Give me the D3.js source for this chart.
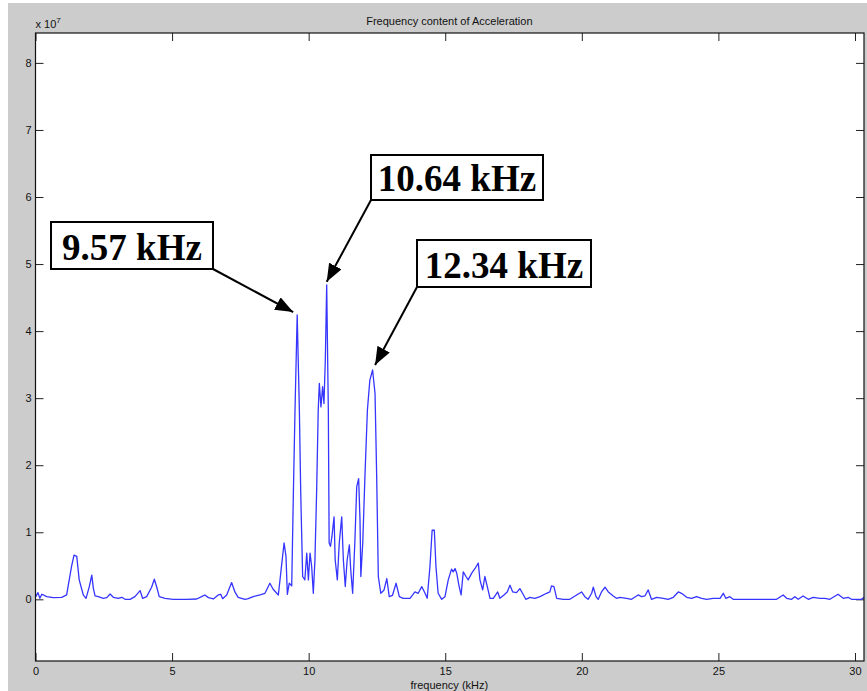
<!DOCTYPE html>
<html>
<head>
<meta charset="utf-8">
<script src="https://cdn.jsdelivr.net/npm/d3@7"></script>
<style>
  body { margin: 0; background: #ffffff; }
  .tick text { font-family: "Liberation Sans", Arial, sans-serif; font-size: 11px; fill: #111; }
  .tick line { stroke: #222; }
  .axisText { font-family: "Liberation Sans", Arial, sans-serif; font-size: 11px; fill: #111; }
  .annot { font-family: "Liberation Serif", "Times New Roman", serif; font-weight: bold; font-size: 37px; fill: #000; }
</style>
</head>
<body>
<div id="chart"></div>
<script>
// spectrum: frequency (kHz) and amplitude (x 1e7)
var freq = [
  0.01, 0.09, 0.16, 0.23, 0.29, 0.41, 0.65, 0.96, 1.14, 1.32, 1.41, 1.51, 1.60, 1.75, 1.85, 1.97,
  2.06, 2.12, 2.18, 2.30, 2.48, 2.61, 2.73, 2.85, 3.03, 3.16, 3.28, 3.46, 3.64, 3.83, 3.92, 4.07,
  4.25, 4.35, 4.44, 4.53, 4.74, 5.04, 5.53, 5.90, 6.08, 6.20, 6.33, 6.51, 6.69, 6.78, 6.85, 7.00,
  7.18, 7.30, 7.42, 7.67, 7.79, 7.97, 8.22, 8.40, 8.58, 8.70, 8.89, 9.01, 9.10, 9.17, 9.22, 9.29,
  9.38, 9.44, 9.50, 9.58, 9.66, 9.71, 9.78, 9.86, 9.93, 9.99, 10.05, 10.11, 10.17, 10.23, 10.29, 10.35,
  10.39, 10.45, 10.51, 10.56, 10.61, 10.66, 10.72, 10.75, 10.80, 10.85, 10.93, 10.97, 11.05, 11.12, 11.21, 11.27,
  11.34, 11.41, 11.49, 11.54, 11.61, 11.69, 11.76, 11.83, 11.88, 11.91, 11.98, 12.06, 12.15, 12.24, 12.34, 12.43,
  12.49, 12.55, 12.64, 12.76, 12.86, 12.95, 13.07, 13.20, 13.32, 13.46, 13.71, 13.89, 14.01, 14.14, 14.26, 14.34,
  14.44, 14.52, 14.60, 14.66, 14.74, 14.87, 14.99, 15.11, 15.23, 15.29, 15.36, 15.42, 15.51, 15.58, 15.66, 15.76,
  15.84, 15.97, 16.09, 16.21, 16.27, 16.37, 16.45, 16.54, 16.64, 16.76, 16.92, 17.00, 17.15, 17.27, 17.37, 17.47,
  17.61, 17.73, 17.83, 17.95, 18.10, 18.28, 18.47, 18.71, 18.83, 18.89, 18.98, 19.08, 19.32, 19.56, 19.81, 19.99,
  20.11, 20.23, 20.36, 20.42, 20.52, 20.60, 20.72, 20.85, 20.97, 21.15, 21.27, 21.39, 21.64, 21.82, 22.06, 22.19,
  22.31, 22.43, 22.55, 22.74, 22.98, 23.16, 23.35, 23.53, 23.65, 23.84, 24.02, 24.20, 24.39, 24.57, 24.81, 25.06,
  25.18, 25.27, 25.42, 25.54, 25.79, 26.27, 26.64, 26.89, 27.13, 27.37, 27.50, 27.68, 27.80, 27.92, 28.10, 28.29,
  28.47, 28.72, 28.90, 29.08, 29.20, 29.38, 29.57, 29.75, 29.87, 30.06, 30.24, 30.33
];
var amp = [
  0.04, 0.10, 0.015, 0.075, 0.065, 0.04, 0.025, 0.03, 0.065, 0.49, 0.66, 0.64, 0.29, 0.065, 0.015, 0.19,
  0.36, 0.16, 0.05, 0.04, 0.015, 0.025, 0.08, 0.03, 0.015, 0.03, 0, 0, 0.04, 0.13, 0.015, 0.04,
  0.18, 0.30, 0.18, 0.04, 0.015, 0, 0, 0.005, 0.04, 0.065, 0.025, 0.005, 0.065, 0.075, 0.01, 0.065,
  0.25, 0.11, 0.03, 0, 0.01, 0.04, 0.065, 0.09, 0.24, 0.15, 0.065, 0.51, 0.84, 0.64, 0.075, 0.24,
  0.20, 1.58, 2.82, 4.24, 2.82, 1.58, 0.34, 0.29, 0.69, 0.29, 0.69, 0.49, 0.09, 0.59, 1.58, 2.82,
  3.22, 2.87, 3.17, 2.92, 3.57, 4.69, 2.82, 0.84, 0.79, 0.93, 1.23, 0.59, 0.29, 0.84, 1.23, 0.59,
  0.19, 0.59, 0.81, 0.44, 0.09, 0.84, 1.68, 1.80, 1.18, 0.34, 0.84, 1.83, 2.82, 3.27, 3.42, 3.07,
  1.83, 0.34, 0.09, 0.14, 0.31, 0.04, 0.06, 0.24, 0.04, 0.015, 0.015, 0.11, 0.09, 0.19, 0.09, 0.015,
  0.49, 1.03, 1.03, 0.49, 0.09, 0, 0.04, 0.29, 0.45, 0.41, 0.46, 0.39, 0.19, 0.065, 0.41, 0.34,
  0.29, 0.39, 0.46, 0.54, 0.29, 0.14, 0.34, 0.19, 0.015, 0.015, 0.11, 0.015, 0.065, 0.11, 0.21, 0.11,
  0.10, 0.16, 0.09, 0, 0.03, 0.015, 0.04, 0.09, 0.11, 0.20, 0.19, 0.015, 0, 0, 0.065, 0.11,
  0.04, 0, 0.09, 0.18, 0.04, 0, 0.11, 0.18, 0.11, 0.05, 0.015, 0.03, 0.015, 0, 0.065, 0.04,
  0.05, 0.14, 0, 0.03, 0.015, 0, 0.03, 0.11, 0.09, 0.03, 0.015, 0.04, 0.015, 0, 0.015, 0.015,
  0.09, 0.015, 0.04, 0, 0, 0, 0, 0, 0, 0.065, 0.015, 0, 0.04, 0, 0.05, 0,
  0.03, 0.015, 0.015, 0, 0.03, 0.075, 0.015, 0.03, 0, 0, 0, 0.03
];

var xTicks = [0, 5, 10, 15, 20, 25, 30];
var yTicks = [0, 1, 2, 3, 4, 5, 6, 7, 8];

// peak callouts
var peakLabels = ["9.57 kHz", "10.64 kHz", "12.34 kHz"];
var peakFreq = [9.58, 10.66, 12.34];
var peakAmp = [4.24, 4.69, 3.42];

var svgWidth = 867;
var svgHeight = 691;

var svg = d3.select("#chart")
    .append("svg")
    .attr("width", svgWidth)
    .attr("height", svgHeight);

// figure grey
svg.append("rect")
    .attr("x", 8).attr("y", 3)
    .attr("width", svgWidth - 8).attr("height", svgHeight - 3)
    .attr("fill", "#cccccc");

var chartMargin = { top: 33, right: 3, bottom: 30, left: 35.5 };
var chartWidth = svgWidth - chartMargin.left - chartMargin.right;
var chartHeight = svgHeight - chartMargin.top - chartMargin.bottom;

var chartGroup = svg.append("g")
    .attr("transform", `translate(${chartMargin.left}, ${chartMargin.top})`);

chartGroup.append("rect")
    .attr("width", chartWidth)
    .attr("height", chartHeight)
    .attr("fill", "#ffffff");

var xLinearScale = d3.scaleLinear()
    .domain([0, 30.33])
    .range([0, chartWidth]);

var yLinearScale = d3.scaleLinear()
    .domain([-0.92, 8.446])
    .range([chartHeight, 0]);

// ticks point inward on all four sides, like matlab's boxed axes
chartGroup.append("g")
    .attr("transform", `translate(0, ${chartHeight})`)
    .call(d3.axisBottom(xLinearScale).tickValues(xTicks).tickSize(-8).tickPadding(6))
    .call(g => g.select(".domain").remove());

chartGroup.append("g")
    .call(d3.axisTop(xLinearScale).tickValues(xTicks).tickSize(-8).tickFormat(""))
    .call(g => g.select(".domain").remove());

chartGroup.append("g")
    .call(d3.axisLeft(yLinearScale).tickValues(yTicks).tickSize(-8).tickPadding(4))
    .call(g => g.select(".domain").remove());

chartGroup.append("g")
    .attr("transform", `translate(${chartWidth}, 0)`)
    .call(d3.axisRight(yLinearScale).tickValues(yTicks).tickSize(-8).tickFormat(""))
    .call(g => g.select(".domain").remove());

var clip = chartGroup.append("clipPath").attr("id", "plotClip")
    .append("rect").attr("width", chartWidth).attr("height", chartHeight);

var spectrum = d3.line()
    .x(i => xLinearScale(freq[i]))
    .y(i => yLinearScale(amp[i]));

chartGroup.append("path")
    .datum(d3.range(freq.length))
    .attr("clip-path", "url(#plotClip)")
    .attr("d", spectrum)
    .attr("fill", "none")
    .attr("stroke", "#3535ff")
    .attr("stroke-width", 1.3)
    .attr("stroke-linejoin", "round");

chartGroup.append("rect")
    .attr("width", chartWidth)
    .attr("height", chartHeight)
    .attr("fill", "none")
    .attr("stroke", "#111")
    .attr("stroke-width", 1.2);

// title, axis label, exponent
chartGroup.append("text")
    .attr("class", "axisText")
    .attr("x", xLinearScale(15.15))
    .attr("y", -8)
    .attr("text-anchor", "middle")
    .text("Frequency content of Acceleration");

chartGroup.append("text")
    .attr("class", "axisText")
    .attr("x", xLinearScale(15.15))
    .attr("y", chartHeight + 28)
    .attr("text-anchor", "middle")
    .text("frequency (kHz)");

var expo = chartGroup.append("text")
    .attr("class", "axisText")
    .attr("x", 0)
    .attr("y", -5)
    .text("x 10");
expo.append("tspan")
    .attr("dy", -5)
    .attr("font-size", "8px")
    .text("7");

// callout boxes (pixel layout) and arrows to the peaks
var boxes = [
    { x: 51, y: 222, w: 162, h: 47, corner: "right", dx: -4, dy: -3 },
    { x: 371, y: 155, w: 172, h: 45, corner: "left", dx: 0, dy: -3 },
    { x: 417, y: 240, w: 174, h: 47, corner: "left", dx: 2.5, dy: -5 }
];

svg.append("defs").append("marker")
    .attr("id", "head")
    .attr("markerUnits", "userSpaceOnUse")
    .attr("viewBox", "0 0 18 14")
    .attr("refX", 18).attr("refY", 7)
    .attr("markerWidth", 18).attr("markerHeight", 14)
    .attr("orient", "auto")
    .append("path")
    .attr("d", "M0,0 L18,7 L0,14 Z")
    .attr("fill", "#000");

boxes.forEach(function (b, i) {
    var sx = b.corner === "right" ? b.x + b.w : b.x;
    var sy = b.y + b.h;
    var tx = chartMargin.left + xLinearScale(peakFreq[i]) + b.dx;
    var ty = chartMargin.top + yLinearScale(peakAmp[i]) + b.dy;

    svg.append("line")
        .attr("x1", sx).attr("y1", sy)
        .attr("x2", tx).attr("y2", ty)
        .attr("stroke", "#000")
        .attr("stroke-width", 2)
        .attr("marker-end", "url(#head)");

    svg.append("rect")
        .attr("x", b.x).attr("y", b.y)
        .attr("width", b.w).attr("height", b.h)
        .attr("fill", "#fff")
        .attr("stroke", "#000")
        .attr("stroke-width", 2);

    svg.append("text")
        .attr("class", "annot")
        .attr("x", b.x + b.w / 2)
        .attr("y", b.y + b.h - 9)
        .attr("text-anchor", "middle")
        .text(peakLabels[i]);
});
</script>
</body>
</html>
